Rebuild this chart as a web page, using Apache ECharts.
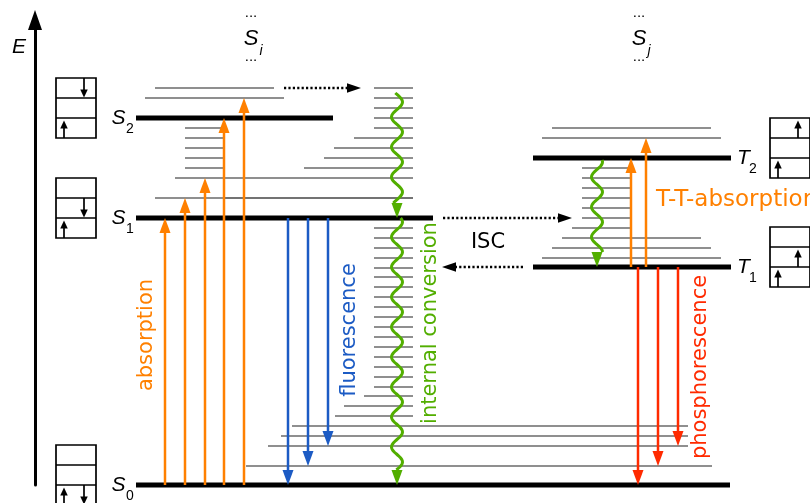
<!DOCTYPE html>
<html>
<head>
<meta charset="utf-8">
<script src="https://cdn.jsdelivr.net/npm/echarts@6/dist/echarts.min.js"></script>
<style>
  html, body { margin: 0; padding: 0; background: #fff; }
  #chart { width: 810px; height: 503px; }
</style>
</head>
<body>
<div id="chart"></div>
<script>
// ---------- Jablonski diagram data (energies in diagram units, S0 = 0) ----------

// Electronic states
const stateLetter = ['S', 'S', 'S', 'T', 'T'];
const stateIndex  = ['0', '1', '2', '1', '2'];
const stateEnergy = [0, 267, 367, 218, 327];
const stateFrom   = [136, 136, 136, 533, 533];
const stateTo     = [730, 433, 333, 731, 731];
// Orbital occupation, top orbital first; per orbital: left slot, right slot ('^' up, 'v' down, '.' empty)
const stateSpins = [
  ['..', '..', '^v'],
  ['..', '.v', '^.'],
  ['.v', '..', '^.'],
  ['..', '.^', '^.'],
  ['.^', '..', '^.']
];

// Vibrational sublevels: [energy, from, to]
const groundLevels = [[19, 246, 712], [39, 268, 688], [49, 281, 688], [59, 292, 688]];
const singletLevels = [
  [287, 155, 413], [287, 225, 413], [307, 175, 413],
  [317, 185, 224], [327, 185, 224], [337, 185, 224], [347, 185, 224], [357, 185, 224],
  [387, 145, 284], [397, 155, 274]
];
const conversionLadder = [
  [69, 335, 413], [79, 344, 413], [89, 364, 413],
  [98, 374, 413], [108, 374, 413], [118, 374, 413], [128, 374, 413], [138, 374, 413],
  [148, 374, 413], [158, 374, 413], [168, 374, 413], [178, 374, 413], [188, 374, 413],
  [198, 374, 413], [208, 374, 413], [217, 374, 413], [227, 374, 413], [237, 374, 413],
  [247, 374, 413], [257, 374, 413],
  [317, 304, 413], [327, 324, 413], [337, 334, 413], [347, 354, 413],
  [357, 374, 413], [367, 374, 413], [377, 374, 413], [387, 374, 413], [397, 374, 413]
];
const tripletLevels = [
  [227, 542, 721], [237, 552, 711], [247, 562, 701], [257, 572, 630],
  [267, 582, 630], [277, 582, 630], [287, 582, 630], [297, 582, 630], [307, 582, 630], [317, 582, 630],
  [347, 542, 721], [357, 552, 711]
];

// Radiative transitions: [position, from energy, to energy]
const absorptionArrows      = [[165, 0, 267], [185, 0, 287], [205, 0, 307], [224, 0, 367], [244, 0, 387]];
const fluorescenceArrows    = [[288, 267, 0], [308, 267, 19], [328, 267, 39]];
const phosphorescenceArrows = [[638, 218, 0], [658, 218, 19], [678, 218, 39]];
const ttAbsorptionArrows    = [[631, 218, 327], [646, 218, 347]];
// Internal conversion (wavy): [position, from energy, to energy]
const internalConversion = [[397, 392, 267], [397, 267, 0], [597, 325, 218]];
// Intersystem crossing and transfer to higher states (dotted): [energy, from, to]
const crossingArrows = [[397, 284, 361], [267, 443, 572], [218, 523, 442]];

// Higher singlet manifolds
const upperStateIndex = ['i', 'j'];
const upperStatePos   = [251, 639];
const upperStateEnergy = 446;

// Process names
const processLabels = ['absorption', 'fluorescence', 'internal conversion', 'phosphorescence', 'T-T-absorption', 'ISC'];

// ---------- drawing ----------
const FONT = '"DejaVu Sans", "Liberation Sans", sans-serif';
const SYM_FONT = '"Liberation Sans", Arial, sans-serif';
const ORANGE = '#ff8000', BLUE = '#1c5bc4', GREEN = '#52ae00', RED = '#ff2a00';
const LEVEL_GRAY = '#6a6a6a';

// label anchors: [x, energy, vertical?, align]
const labelAnchors = [
  [147, 150, true, 'center'],
  [350, 155, true, 'center'],
  [431, 162, true, 'center'],
  [701, 118, true, 'center'],
  [656, 285, false, 'left'],
  [488, 242, false, 'center']
];
const labelColors = [ORANGE, BLUE, GREEN, RED, ORANGE, '#000'];
const labelSizes = [21, 21, 21, 21, 23, 21];

function arrowEls(a, b, color, lw, headL, headW, dash) {
  const dx = b[0] - a[0], dy = b[1] - a[1];
  const L = Math.hypot(dx, dy), ux = dx / L, uy = dy / L;
  const bx = b[0] - ux * headL, by = b[1] - uy * headL;
  const nx = -uy * headW / 2, ny = ux * headW / 2;
  return [
    { type: 'line', shape: { x1: a[0], y1: a[1], x2: bx + ux, y2: by + uy },
      style: { stroke: color, lineWidth: lw, lineDash: dash || null, lineCap: 'butt' } },
    { type: 'polygon', shape: { points: [[b[0], b[1]], [bx + nx, by + ny], [bx - nx, by - ny]] },
      style: { fill: color } }
  ];
}

const WAVE_AMP = 5.5, WAVE_LEN = 30, WAVE_PHASE = 94.5;
function waveEls(a, b, color) {
  const headL = 15, headW = 11;
  const dir = Math.sign(b[1] - a[1]);
  const yEnd = b[1] - dir * headL;
  const n = Math.ceil(Math.abs(yEnd - a[1]) / 1.5);
  const pts = [];
  for (let k = 0; k <= n; k++) {
    const y = a[1] + (yEnd - a[1]) * k / n;
    pts.push([a[0] + WAVE_AMP * Math.sin(2 * Math.PI * (y - WAVE_PHASE) / WAVE_LEN), y]);
  }
  return [
    { type: 'polyline', shape: { points: pts }, style: { stroke: color, lineWidth: 3, fill: null } },
    { type: 'polygon', shape: { points: [[b[0], b[1]], [b[0] - headW / 2, yEnd], [b[0] + headW / 2, yEnd]] },
      style: { fill: color } }
  ];
}

function levelSeries(data, color, width) {
  return {
    type: 'custom', clip: false, silent: true, data: data,
    renderItem: function (params, api) {
      const e = api.value(0);
      const a = api.coord([api.value(1), e]), b = api.coord([api.value(2), e]);
      return { type: 'line', shape: { x1: a[0], y1: a[1], x2: b[0], y2: b[1] },
               style: { stroke: color, lineWidth: width, lineCap: 'butt' } };
    }
  };
}

function arrowSeries(data, color) {
  return {
    type: 'custom', clip: false, silent: true, data: data,
    renderItem: function (params, api) {
      const x = api.value(0);
      const a = api.coord([x, api.value(1)]), b = api.coord([x, api.value(2)]);
      return { type: 'group', children: arrowEls(a, b, color, 2.5, 15, 11) };
    }
  };
}

function symText(t, x, y, size, italic) {
  return { type: 'text', x: x, y: y,
    style: { text: t, fill: '#000', fontFamily: SYM_FONT, fontSize: size, fontStyle: italic ? 'italic' : 'normal',
             align: 'center', verticalAlign: 'middle' } };
}

const stateData = stateEnergy.map((e, i) => [e, stateFrom[i], stateTo[i]]);

const series = [
  levelSeries(groundLevels, LEVEL_GRAY, 1.3),
  levelSeries(singletLevels, LEVEL_GRAY, 1.3),
  levelSeries(conversionLadder, LEVEL_GRAY, 1.3),
  levelSeries(tripletLevels, LEVEL_GRAY, 1.3),
  // electronic states with their labels and orbital boxes
  {
    type: 'custom', clip: false, silent: true, data: stateData,
    renderItem: function (params, api) {
      const i = params.dataIndex;
      const e = api.value(0);
      const a = api.coord([api.value(1), e]), b = api.coord([api.value(2), e]);
      const singlet = stateLetter[i] === 'S';
      const kids = [
        { type: 'line', shape: { x1: a[0], y1: a[1], x2: b[0], y2: b[1] },
          style: { stroke: '#000', lineWidth: 5, lineCap: 'butt' } }
      ];
      const lx = singlet ? a[0] - 17.5 : b[0] + 12.5;
      const sx = singlet ? a[0] - 6 : b[0] + 22;
      kids.push(symText(stateLetter[i], lx, a[1], 21, true));
      kids.push(symText(stateIndex[i], sx, a[1] + 11, 14, false));
      // orbital box
      const bx = singlet ? a[0] - 80 : b[0] + 39;
      const top = a[1] - 40, w = 40, h = 20;
      kids.push({ type: 'rect', shape: { x: bx, y: top, width: w, height: 3 * h },
        style: { stroke: '#000', fill: null, lineWidth: 1.7 } });
      kids.push({ type: 'line', shape: { x1: bx, y1: top + h, x2: bx + w, y2: top + h }, style: { stroke: '#000', lineWidth: 1.7 } });
      kids.push({ type: 'line', shape: { x1: bx, y1: top + 2 * h, x2: bx + w, y2: top + 2 * h }, style: { stroke: '#000', lineWidth: 1.7 } });
      stateSpins[i].forEach(function (row, r) {
        const rt = top + r * h, rb = rt + h;
        [0, 1].forEach(function (slot) {
          const c = row[slot];
          const x = bx + (slot === 0 ? 8 : 28);
          if (c === '^') kids.push.apply(kids, arrowEls([x, rb], [x, rt + 2.5], '#000', 1.7, 8, 7.5));
          if (c === 'v') kids.push.apply(kids, arrowEls([x, rt], [x, rb - 0.5], '#000', 1.7, 8, 7.5));
        });
      });
      return { type: 'group', children: kids };
    }
  },
  arrowSeries(absorptionArrows, ORANGE),
  arrowSeries(fluorescenceArrows, BLUE),
  arrowSeries(phosphorescenceArrows, RED),
  arrowSeries(ttAbsorptionArrows, ORANGE),
  // internal conversion
  {
    type: 'custom', clip: false, silent: true, data: internalConversion,
    renderItem: function (params, api) {
      const x = api.value(0);
      const a = api.coord([x, api.value(1)]), b = api.coord([x, api.value(2)]);
      return { type: 'group', children: waveEls(a, b, GREEN) };
    }
  },
  // intersystem crossing (dotted)
  {
    type: 'custom', clip: false, silent: true, data: crossingArrows,
    renderItem: function (params, api) {
      const e = api.value(0);
      const a = api.coord([api.value(1), e]), b = api.coord([api.value(2), e]);
      return { type: 'group', children: arrowEls(a, b, '#000', 2.5, 14, 9.5, [2.2, 2.2]) };
    }
  },
  // higher singlet manifolds S_i, S_j
  {
    type: 'custom', clip: false, silent: true,
    data: upperStatePos.map((x) => [x, upperStateEnergy]),
    renderItem: function (params, api) {
      const p = api.coord([api.value(0), api.value(1)]);
      const i = params.dataIndex;
      return { type: 'group', children: [
        symText('S', p[0], p[1], 22, true),
        symText(upperStateIndex[i], p[0] + 10, p[1] + 12, 14, true),
        symText('...', p[0], p[1] - 26, 15, false),
        symText('...', p[0], p[1] + 18, 15, false)
      ] };
    }
  },
  // process names
  {
    type: 'custom', clip: false, silent: true,
    data: labelAnchors.map(l => [l[0], l[1]]),
    renderItem: function (params, api) {
      const i = params.dataIndex;
      const p = api.coord([api.value(0), api.value(1)]);
      const l = labelAnchors[i];
      return { type: 'text', x: p[0], y: p[1], rotation: l[2] ? Math.PI / 2 : 0,
        style: { text: processLabels[i], fill: labelColors[i], fontFamily: FONT, fontSize: labelSizes[i],
                 align: l[3], verticalAlign: 'middle' } };
    }
  }
];

const chart = echarts.init(document.getElementById('chart'));
chart.setOption({
  animation: false,
  backgroundColor: '#fff',
  grid: { left: 0, right: 0, top: 20, bottom: 18 },
  xAxis: { type: 'value', min: 0, max: 810, show: false },
  yAxis: {
    type: 'value', min: 0, max: 465, offset: -35,
    name: 'E', nameLocation: 'end', nameGap: -27,
    nameTextStyle: { fontFamily: SYM_FONT, fontSize: 21, fontStyle: 'italic', color: '#000',
                     align: 'right', verticalAlign: 'middle', padding: [0, 9, 0, 0] },
    axisLine: { show: true, symbol: ['none', 'triangle'], symbolSize: [14, 20],
                lineStyle: { color: '#000', width: 3 } },
    axisTick: { show: false }, axisLabel: { show: false }, splitLine: { show: false }
  },
  series: series
});
</script>
</body>
</html>
